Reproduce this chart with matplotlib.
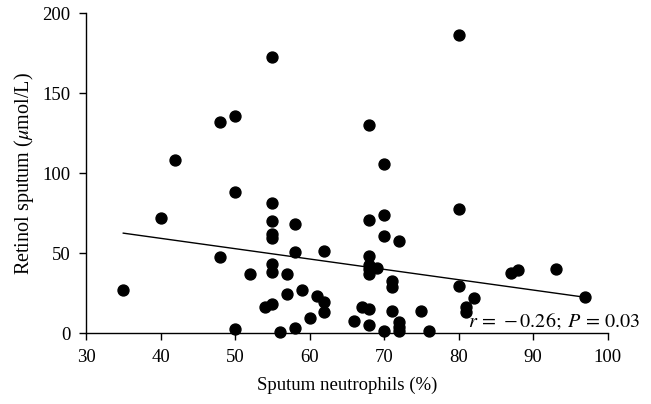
import matplotlib
matplotlib.use("Agg")
import matplotlib.pyplot as plt

# Sputum neutrophils (%) vs retinol in sputum (umol/L)
neutrophils = [
    35, 40, 42, 48, 48, 50, 50, 50, 52, 54,
    55, 55, 55, 55, 55, 55, 55, 55, 56, 57,
    57, 58, 58, 58, 59, 60, 61, 62, 62, 62,
    66, 67, 68, 68, 68, 68, 68, 68, 68, 68,
    69, 70, 70, 70, 70, 71, 71, 71, 72, 72,
    72, 72, 75, 76, 80, 80, 80, 81, 81, 82,
    87, 88, 93, 97,
]
retinol = [
    27.3, 71.9, 108.3, 131.9, 47.7, 135.6, 88.6, 2.7, 36.9, 16.4,
    172.7, 81.4, 70.2, 61.9, 59.8, 43.1, 38.1, 18.5, 1.0, 36.9,
    24.8, 68.5, 50.8, 3.5, 27.3, 9.8, 23.1, 51.6, 19.8, 13.1,
    7.9, 16.2, 130.0, 71.0, 48.1, 42.7, 40.0, 37.0, 15.2, 5.5,
    41.0, 105.8, 73.7, 60.7, 1.3, 32.5, 28.8, 14.2, 57.6, 7.3,
    4.1, 1.6, 13.7, 1.5, 186.4, 77.5, 29.8, 16.6, 13.5, 22.3,
    37.5, 39.4, 40.0, 22.5,
]
# regression line as drawn in the figure (ends at first and last x)
fit_x = [35, 97]
fit_y = [62.6, 22.5]

x_ticks = [30, 40, 50, 60, 70, 80, 90, 100]
y_ticks = [0, 50, 100, 150, 200]

plt.rcParams["font.family"] = ["Liberation Serif", "DejaVu Serif"]
plt.rcParams["mathtext.fontset"] = "stix"

fig = plt.figure(figsize=(6.51, 4.04), dpi=100)
ax = fig.add_axes([86 / 651, 1 - 333.3 / 404, (607.7 - 86) / 651, (333.3 - 13.3) / 404])

ax.scatter(neutrophils, retinol, s=62, color="black", zorder=3, clip_on=False)
ax.plot(fit_x, fit_y, color="black", linewidth=1)

ax.text(81.2, 3.9, r"$r\,=\,-0.26;\;P\,=\,0.03$", fontsize=14.5,
        ha="left", va="baseline")

ax.set_xlim(30, 100)
ax.set_ylim(0, 200)
ax.set_xticks(x_ticks)
ax.set_yticks(y_ticks)
ax.tick_params(direction="out", length=5, width=1, labelsize=13.5, pad=6)

for side in ["top", "right"]:
    ax.spines[side].set_visible(False)
for side in ["left", "bottom"]:
    ax.spines[side].set_linewidth(1)

ax.set_xlabel("Sputum neutrophils (%)", fontsize=13.5, labelpad=8)
ax.set_ylabel("Retinol sputum ($\\mu$mol/L)", fontsize=14.5, labelpad=5)

fig.savefig("out.png", dpi=100)
